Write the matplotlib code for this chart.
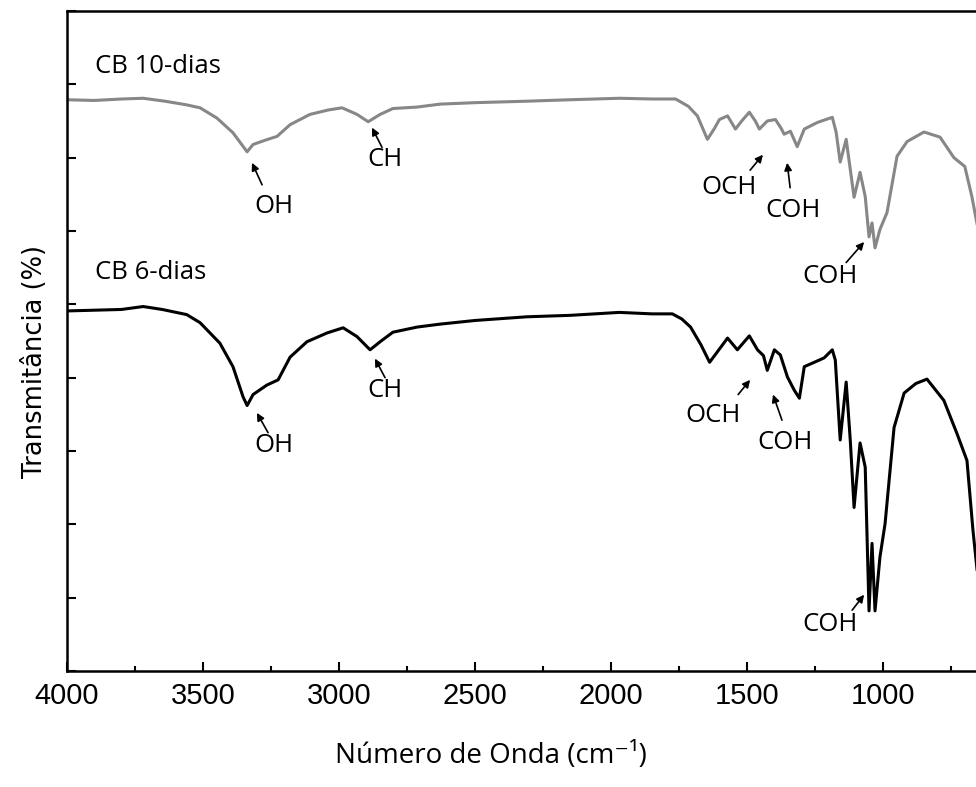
import numpy as np
import matplotlib
matplotlib.use('Agg')
import matplotlib.pyplot as plt
from matplotlib.ticker import MultipleLocator

# FTIR spectra of bacterial cellulose (offset, arbitrary transmittance units)
wn_10d = [4000, 3900, 3800, 3720, 3640, 3560, 3511, 3449, 3390, 3338, 3316, 3270,
	3228, 3180, 3107, 3040, 2989, 2934, 2893, 2849, 2802, 2713, 2629, 2500, 2310,
	2150, 1969, 1850, 1763, 1716, 1683, 1646, 1620, 1602, 1572, 1543, 1520, 1492,
	1470, 1455, 1426, 1396, 1375, 1364, 1341, 1316, 1290, 1242, 1187, 1173, 1158,
	1136, 1107, 1085, 1066, 1052, 1041, 1030, 1012, 986, 949, 912, 850, 791, 740,
	700, 674, 650]
T_10d = [7.79, 7.78, 7.80, 7.81, 7.77, 7.72, 7.68, 7.54, 7.34, 7.08, 7.18, 7.24,
	7.29, 7.45, 7.59, 7.65, 7.68, 7.59, 7.49, 7.59, 7.67, 7.69, 7.73, 7.75, 7.77,
	7.79, 7.81, 7.80, 7.80, 7.70, 7.57, 7.25, 7.40, 7.52, 7.57, 7.39, 7.50, 7.62,
	7.50, 7.39, 7.50, 7.52, 7.40, 7.32, 7.36, 7.15, 7.39, 7.48, 7.55, 7.35, 6.94,
	7.25, 6.46, 6.80, 6.47, 5.92, 6.11, 5.77, 6.02, 6.25, 7.02, 7.22, 7.35, 7.28,
	7.00, 6.88, 6.47, 6.00]

wn_6d = [4000, 3900, 3800, 3720, 3650, 3560, 3511, 3438, 3390, 3353, 3338, 3316,
	3265, 3224, 3180, 3118, 3044, 2985, 2934, 2886, 2849, 2802, 2713, 2629, 2500,
	2310, 2150, 1970, 1850, 1775, 1740, 1708, 1670, 1638, 1610, 1572, 1536, 1492,
	1462, 1440, 1426, 1400, 1378, 1352, 1327, 1308, 1290, 1253, 1217, 1187, 1176,
	1158, 1136, 1121, 1107, 1085, 1066, 1052, 1041, 1030, 1012, 993, 960, 923, 880,
	839, 777, 729, 692, 670, 650]
T_6d = [4.91, 4.92, 4.93, 4.97, 4.93, 4.86, 4.75, 4.47, 4.15, 3.74, 3.62, 3.77,
	3.90, 3.97, 4.28, 4.49, 4.61, 4.68, 4.56, 4.38, 4.49, 4.62, 4.69, 4.73, 4.78,
	4.83, 4.85, 4.89, 4.87, 4.87, 4.80, 4.69, 4.45, 4.21, 4.35, 4.54, 4.38, 4.57,
	4.38, 4.30, 4.10, 4.38, 4.31, 4.01, 3.83, 3.72, 4.15, 4.21, 4.27, 4.38, 4.24,
	3.15, 3.94, 3.15, 2.23, 3.11, 2.78, 0.82, 1.74, 0.82, 1.55, 2.01, 3.32, 3.79,
	3.92, 3.98, 3.69, 3.24, 2.87, 1.92, 1.20]

# band labels: (text, arrow tip, arrow tail, text centre) in (wavenumber, T)
bands = [
	('OH', (3320, 6.93), (3283, 6.63), (3239, 6.33)),
	('CH', (2879, 7.41), (2842, 7.14), (2831, 6.97)),
	('OCH', (1442, 7.04), (1489, 6.83), (1566, 6.59)),
	('COH', (1353, 6.93), (1342, 6.59), (1331, 6.28)),
	('COH', (1070, 5.85), (1136, 5.57), (1195, 5.38)),
	('OH', (3302, 3.52), (3261, 3.25), (3239, 3.08)),
	('CH', (2868, 4.26), (2831, 4.00), (2831, 3.82)),
	('OCH', (1489, 3.97), (1533, 3.77), (1625, 3.48)),
	('COH', (1405, 3.77), (1372, 3.42), (1361, 3.11)),
	('COH', (1070, 1.04), (1114, 0.83), (1195, 0.64)),
]
sample_names = ['CB 10-dias', 'CB 6-dias']
name_pos = [(3897, 8.24), (3897, 5.43)]

fig = plt.figure(figsize=(9.76, 7.87), dpi=100)
# axes runs past the right edge of the canvas
ax = fig.add_axes([67/976, 116/787, 925/976, 660/787])

ax.plot(wn_10d, T_10d, color='#878787', lw=2.2)
ax.plot(wn_6d, T_6d, color='black', lw=2.2)

ax.set_xlim(4000, 600)
ax.set_ylim(0, 9)
ax.xaxis.set_major_locator(MultipleLocator(500))
ax.xaxis.set_minor_locator(MultipleLocator(250))
ax.yaxis.set_major_locator(MultipleLocator(1))
ax.set_yticklabels([])
ax.tick_params(which='both', direction='in', width=1.5)
ax.tick_params(which='major', length=6.5)
ax.tick_params(which='minor', length=3.5)
ax.tick_params(axis='x', labelsize=21, pad=8)
for lbl in ax.get_xticklabels():
	lbl.set_family('Liberation Sans')
for s in ax.spines.values():
	s.set_linewidth(1.8)

for name, (x, y) in zip(sample_names, name_pos):
	ax.text(x, y, name, family='Open Sans', fontsize=18.5, ha='left', va='center')

for txt, tip, tail, pos in bands:
	ax.annotate('', xy=tip, xytext=tail,
		arrowprops=dict(arrowstyle='-|>', color='black', lw=1.2,
			mutation_scale=11, shrinkA=0, shrinkB=0))
	ax.text(pos[0], pos[1], txt, family='Open Sans', fontsize=18.5,
		ha='center', va='center')

ax.set_xlabel('Número de Onda (cm⁻¹)', family=['Open Sans', 'DejaVu Sans'], fontsize=20)
ax.xaxis.label.set_verticalalignment('baseline')
ax.xaxis.set_label_coords(0.458, -0.1396)
ax.set_ylabel('Transmitância (%)', family='DejaVu Sans', fontsize=18.5)
ax.yaxis.set_label_coords(-0.0205, 0.469)

fig.savefig('out.png', dpi=100)
